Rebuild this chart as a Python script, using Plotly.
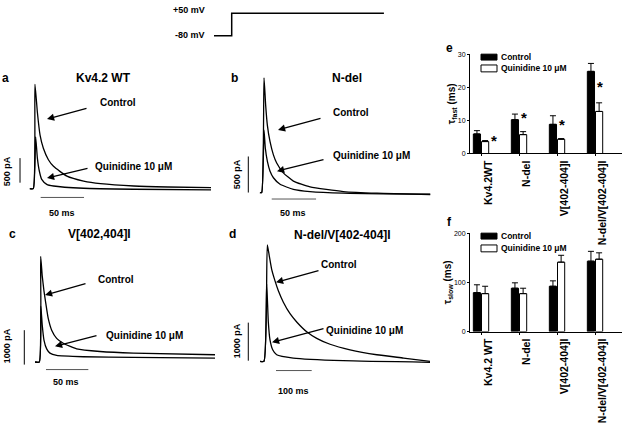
import plotly.graph_objects as go

W, H = 628, 424
FONT = "Liberation Sans, Arial, Helvetica, sans-serif"

# ---------------- data ----------------
# voltage protocol (schematic, ms / mV)
proto_t = [0, 20, 20, 192]
proto_mv = [-80, -80, 50, 50]

# current traces (t in ms, I in pA)
a_ctrl_t = [-4, 0, 1.9, 4.7, 7.8, 11.6, 17.4, 23.3, 38.8, 58, 77.5, 116, 155, 205]
a_ctrl_i = [0, 0, 2120, 1553, 1087, 820, 587, 453, 253, 153, 100, 53, 33, 20]
a_quin_t = [-4, 0, 2.7, 4.7, 7, 9.7, 15.5, 23.3, 58, 116, 205]
a_quin_i = [0, 0, 1053, 620, 353, 187, 87, 53, 7, -13, -27]

b_ctrl_t = [-2, 0, 2.6, 4.5, 6.4, 9.4, 13.2, 16.9, 24.4, 35.7, 54.5, 92, 130, 190]
b_ctrl_i = [0, 0, 1591, 1205, 932, 705, 523, 409, 273, 159, 77, 14, -9, -23]
b_quin_t = [-2, 0, 2.6, 4.1, 6.4, 9.4, 13.2, 20.7, 35.7, 54.5, 92, 190]
b_quin_i = [0, 0, 864, 614, 432, 295, 205, 114, 45, 14, -9, -27]

c_ctrl_t = [-5, 0, 1.6, 3.5, 5.5, 7.5, 10.6, 14.6, 20.5, 28.3, 44.1, 71.7, 111, 209]
c_ctrl_i = [0, 0, 3067, 2495, 2067, 1733, 1257, 924, 686, 543, 381, 305, 257, 210]
c_quin_t = [-5, 0, 1.8, 3.5, 5.5, 8.7, 12.6, 20.5, 52, 111, 209]
c_quin_i = [0, 0, 1619, 1067, 638, 381, 257, 190, 152, 133, 114]

d_ctrl_t = [-11, 0, 9.3, 15, 21.5, 30.8, 40.2, 54.2, 72.9, 91.6, 119.6, 147.7, 185, 241, 316, 391, 465]
d_ctrl_i = [0, 0, 3060, 2759, 2414, 2112, 1853, 1552, 1250, 1034, 776, 603, 448, 302, 172, 86, 0]
d_quin_t = [-11, 0, 7.5, 12.1, 16.8, 24.3, 35.5, 82, 222, 465]
d_quin_i = [0, 0, 2026, 1034, 560, 302, 172, 86, 17, -26]

scale_ms = [50, 50, 50, 100]
scale_pA = [500, 500, 1000, 1000]

# bar charts
groups_e = ["Kv4.2WT", "N-del", "V[402-404]I", "N-del/V[402-404]I"]
groups_f = ["Kv4.2 WT", "N-del", "V[402-404]I", "N-del/V[402-404]I"]
tfast_ctrl = [5.9, 10.2, 8.8, 24.8]
tfast_ctrl_sem = [1.0, 1.7, 2.6, 2.4]
tfast_quin = [3.6, 5.7, 4.3, 12.7]
tfast_quin_sem = [0.3, 0.9, 0.2, 2.6]
tslow_ctrl = [79, 88, 92, 143]
tslow_ctrl_sem = [16, 11, 11, 20]
tslow_quin = [77, 77, 141, 147]
tslow_quin_sem = [15, 11, 14, 13]

# ---------------- helpers ----------------
def px(x):
    return x / W

def py(y):
    return 1 - y / H

layout = dict(
    width=W, height=H, margin=dict(l=0, r=0, t=0, b=0),
    paper_bgcolor="white", plot_bgcolor="rgba(0,0,0,0)",
    showlegend=False, font=dict(family=FONT, color="black"),
    barmode="group", bargap=0.57, bargroupgap=0.12,
)
annotations = []
shapes = []
traces = []

def axname(n, letter):
    return f"{letter}axis" if n == 1 else f"{letter}axis{n}"

def ref(n, letter):
    return letter if n == 1 else f"{letter}{n}"

def panel_axes(n, x0, sx, y0, sy, xa, xb, ya, yb):
    layout[axname(n, "x")] = dict(domain=[xa / W, xb / W],
                                  range=[(xa - x0) / sx, (xb - x0) / sx],
                                  visible=False, anchor=ref(n, "y"), fixedrange=True)
    layout[axname(n, "y")] = dict(domain=[1 - yb / H, 1 - ya / H],
                                  range=[(y0 - yb) / sy, (y0 - ya) / sy],
                                  visible=False, anchor=ref(n, "x"), fixedrange=True)

def line(n, x, y, w=1.3):
    traces.append(go.Scatter(x=x, y=y, mode="lines", xaxis=ref(n, "x"), yaxis=ref(n, "y"),
                             line=dict(color="black", width=w, shape="spline", smoothing=0.5),
                             hoverinfo="skip"))

def text(x, y, s, size=10, xanchor="center", yanchor="middle", angle=0, bold=True):
    annotations.append(dict(x=px(x), y=py(y), xref="paper", yref="paper", text=s,
                            showarrow=False, xanchor=xanchor, yanchor=yanchor,
                            textangle=angle,
                            font=dict(size=size, family=FONT, color="black",
                                      weight="bold" if bold else "normal")))

def arrow(tail, head):
    annotations.append(dict(x=px(head[0]), y=py(head[1]), xref="paper", yref="paper",
                            ax=tail[0] - head[0], ay=tail[1] - head[1], text="",
                            showarrow=True, arrowhead=2, arrowsize=1.1, arrowwidth=1.3,
                            arrowcolor="black", standoff=0, startstandoff=0))

# ---------------- protocol ----------------
panel_axes(1, 214, 0.885, 32.3, 23.0 / 130, 205, 390, 2, 40)
layout["yaxis"]["range"] = [(-80) - (40 - 32.3) * 130 / 23.0, (-80) + (32.3 - 2) * 130 / 23.0]
traces.append(go.Scatter(x=proto_t, y=proto_mv, mode="lines", line=dict(color="black", width=1.5),
                         hoverinfo="skip"))
text(207, 6, "+50 mV", size=9, xanchor="right")
text(207, 32, "-80 mV", size=9, xanchor="right")

# ---------------- trace panels ----------------
panels = [
    dict(n=2, x0=33.3, sx=0.867, y0=187.7, sy=0.05, dom=(0, 215, 60, 215),
         ctrl=(a_ctrl_t, a_ctrl_i), quin=(a_quin_t, a_quin_i), vb=(-15.3, 120), hb=(8.5, -180)),
    dict(n=3, x0=261.7, sx=0.887, y0=191.7, sy=0.0733, dom=(215, 440, 60, 215),
         ctrl=(b_ctrl_t, b_ctrl_i), quin=(b_quin_t, b_quin_i), vb=(-15.1, 0), hb=(11.3, -90)),
    dict(n=4, x0=39.3, sx=0.847, y0=364, sy=0.035, dom=(0, 215, 225, 395),
         ctrl=(c_ctrl_t, c_ctrl_i), quin=(c_quin_t, c_quin_i), vb=(-17.7, -76), hb=(7.9, -220)),
    dict(n=5, x0=264, sx=0.357, y0=363.3, sy=0.0387, dom=(215, 440, 225, 395),
         ctrl=(d_ctrl_t, d_ctrl_i), quin=(d_quin_t, d_quin_i), vb=(-44, 16), hb=(33.6, -243)),
]
for k, p in enumerate(panels):
    n = p["n"]
    panel_axes(n, p["x0"], p["sx"], p["y0"], p["sy"], *p["dom"])
    line(n, *p["quin"])
    line(n, *p["ctrl"])
    vt, vi = p["vb"]
    traces.append(go.Scatter(x=[vt, vt], y=[vi, vi + scale_pA[k]], mode="lines",
                             xaxis=ref(n, "x"), yaxis=ref(n, "y"),
                             line=dict(color="black", width=1), hoverinfo="skip"))
    ht, hi = p["hb"]
    traces.append(go.Scatter(x=[ht, ht + scale_ms[k]], y=[hi, hi], mode="lines",
                             xaxis=ref(n, "x"), yaxis=ref(n, "y"),
                             line=dict(color="#555555", width=1), hoverinfo="skip"))

# panel a texts
text(5, 75, "a", size=12, xanchor="center")
text(103, 75, "Kv4.2 WT", size=12)
text(118, 100, "Control")
arrow((88, 106), (47, 117))
text(133, 165, "Quinidine 10 \u03bcM")
arrow((89, 167), (47, 177))
text(7, 170, "500 pA", size=9, angle=-90)
text(62, 212, "50 ms", size=9)

# panel b texts
text(235, 75, "b", size=12)
text(347, 75, "N-del", size=12)
text(351, 110, "Control")
arrow((322, 116), (278, 128))
text(371, 154, "Quinidine 10 \u03bcM")
arrow((325, 158), (277, 170))
text(237, 173, "500 pA", size=9, angle=-90)
text(293, 212, "50 ms", size=9)

# panel c texts
text(12, 234, "c", size=12)
text(99, 234, "V[402,404]I", size=12)
text(116, 280, "Control")
arrow((87, 284), (45, 296))
text(144, 337, "Quinidine 10 \u03bcM")
arrow((98, 337), (55, 348))
text(7, 348, "1000 pA", size=9, angle=-90)
text(66, 384, "50 ms", size=9)

# panel d texts
text(233, 234, "d", size=12)
text(342, 235, "N-del/V[402-404]I", size=12)
text(339, 265, "Control")
arrow((320, 271), (276, 283))
text(364, 332, "Quinidine 10 \u03bcM")
arrow((325, 330), (272, 344))
text(237, 343, "1000 pA", size=9, angle=-90)
text(293, 393, "100 ms", size=9)

# ---------------- bar charts ----------------
xcat = [0, 1, 2, 3]

def bar_panel(n, ya, yb, ymax, dtick, ctrl, ctrl_sem, quin, quin_sem, labels, title):
    traces.append(go.Bar(x=xcat, y=ctrl, xaxis=ref(n, "x"), yaxis=ref(n, "y"),
                         marker=dict(color="black", line=dict(color="black", width=1)),
                         error_y=dict(type="data", array=ctrl_sem, arrayminus=[0] * 4,
                                      symmetric=False, color="black", thickness=1, width=3),
                         hoverinfo="skip"))
    traces.append(go.Bar(x=xcat, y=quin, xaxis=ref(n, "x"), yaxis=ref(n, "y"),
                         marker=dict(color="white", line=dict(color="black", width=1)),
                         error_y=dict(type="data", array=quin_sem, arrayminus=[0] * 4,
                                      symmetric=False, color="black", thickness=1, width=3),
                         hoverinfo="skip"))
    layout[axname(n, "x")] = dict(domain=[470 / W, 622 / W], range=[-0.29, 3.71],
                                  anchor=ref(n, "y"), showline=True, linecolor="black",
                                  linewidth=1, showgrid=False, zeroline=False,
                                  tickvals=xcat, ticktext=labels, tickangle=-90,
                                  ticks="outside", ticklen=2, tickcolor="black",
                                  ticklabelshift=8, ticklabelstandoff=0,
                                  tickfont=dict(size=10.5, family=FONT, weight="bold"),
                                  fixedrange=True)
    layout[axname(n, "y")] = dict(domain=[1 - yb / H, 1 - ya / H], range=[0, ymax],
                                  anchor=ref(n, "x"), showline=True, linecolor="black",
                                  linewidth=1, showgrid=False, zeroline=False,
                                  dtick=dtick, ticks="outside", ticklen=2, tickcolor="black",
                                  tickfont=dict(size=7, family=FONT),
                                  title=dict(text=title, standoff=0,
                                             font=dict(size=10, family=FONT, weight="bold")),
                                  fixedrange=True)

bar_panel(6, 51, 152, 30, 10, tfast_ctrl, tfast_ctrl_sem, tfast_quin, tfast_quin_sem,
          groups_e, "\u03c4<sub>fast</sub> (ms)")
bar_panel(7, 233, 333, 200, 100, tslow_ctrl, tslow_ctrl_sem, tslow_quin, tslow_quin_sem,
          groups_f, "\u03c4<sub>slow</sub> (ms)")

# significance stars on tau_fast quinidine bars
star_dx = [0.34, 0.12, 0.12, 0.13]
star_dy = [-2, 12, 12, 14]
for i in range(4):
    annotations.append(dict(x=xcat[i] + star_dx[i], y=tfast_quin[i] + tfast_quin_sem[i],
                            xref="x6", yref="y6", text="*", showarrow=False,
                            yanchor="bottom", yshift=star_dy[i] - 8,
                            font=dict(size=15, family=FONT, weight="bold")))

# panel letters e, f
text(450, 45, "e", size=12)
text(449, 222, "f", size=12)

# legends (manual)
for (y1, y2, fill, lab) in [(51, 57, "black", "Control"), (62, 69, "white", "Quinidine 10 \u03bcM"),
                            (233, 239, "black", "Control"), (245, 252, "white", "Quinidine 10 \u03bcM")]:
    shapes.append(dict(type="rect", xref="paper", yref="paper", x0=px(481), x1=px(497),
                       y0=py(y2), y1=py(y1), fillcolor=fill, line=dict(color="black", width=1)))
    text(499, (y1 + y2) / 2, lab, size=8.5, xanchor="left")

layout["annotations"] = annotations
layout["shapes"] = shapes

fig = go.Figure(data=traces, layout=layout)
fig.write_html("out.html", config={"displayModeBar": False},
               post_script="document.body.style.margin='0';")
